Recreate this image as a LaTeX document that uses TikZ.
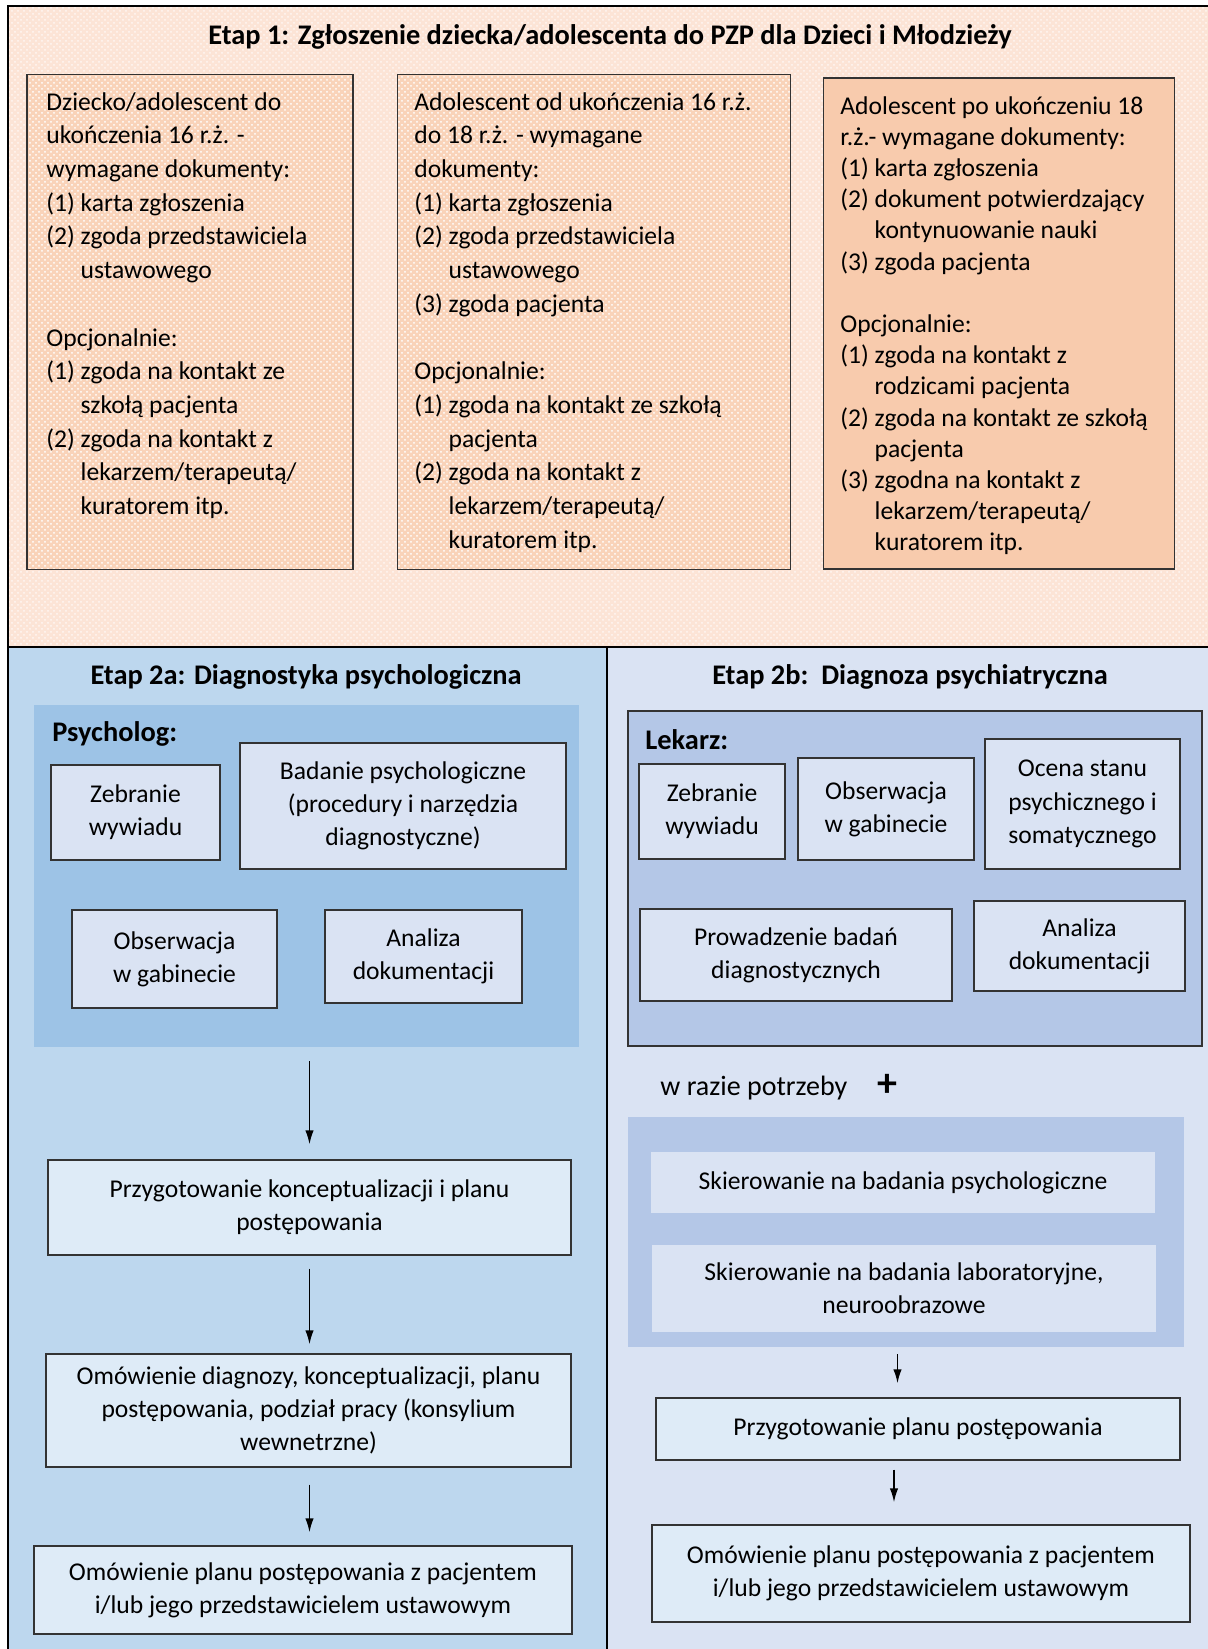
\documentclass[tikz,border=0pt]{standalone}
\usepackage{fontspec}
\setmainfont{Carlito}
\usetikzlibrary{patterns,arrows.meta}
\definecolor{peachbg}{HTML}{FCE4D6}
\definecolor{peachbox}{HTML}{F8CBAD}
\definecolor{bluebg}{HTML}{BDD7EE}
\definecolor{bluepanel}{HTML}{9DC3E6}
\definecolor{lilacbg}{HTML}{DAE3F3}
\definecolor{lilacpanel}{HTML}{B4C7E7}
\definecolor{boxfill}{HTML}{DEEBF7}
\newcommand{\ind}{\hphantom{(2) }}
\begin{document}
\begin{tikzpicture}[x=0.5pt, y=-0.5pt,
    txt/.style={font=\fontsize{12.8}{16.85}\selectfont, align=left, inner sep=0pt},
    ttl/.style={font=\fontsize{14.2}{16}\selectfont\bfseries, inner sep=0pt},
    docbox/.style={draw=black!80, line width=0.6pt, preaction={fill=peachbox!85!white}, pattern=crosshatch dots, pattern color=white},
    bx/.style={draw=black!80, line width=0.6pt, fill=lilacbg, align=center, inner sep=0pt, font=\fontsize{12.8}{16.6}\selectfont},
    flat/.style={fill=lilacbg, align=center, inner sep=0pt, font=\fontsize{12.8}{16.6}\selectfont},
    arr/.style={-{Latex[length=7pt,width=4.2pt]}, line width=0.9pt}]
    \useasboundingbox (0,0) rectangle (1208,1649);
    \clip (0,0) rectangle (1208,1649);
    % etap 1
    \fill [peachbg] (8,6) rectangle (1220,647);
    \fill [pattern=crosshatch dots, pattern color=white, opacity=0.7] (8,6) rectangle (1220,647);
    \draw [line width=1pt] (1220,6) -- (8,6) -- (8,1660);
    \node [ttl] (e1) at (610,37) {Etap 1: Zgłoszenie dziecka/adolescenta do PZP dla Dzieci i Młodzieży};
    \node [docbox, minimum width=163pt, minimum height=247.5pt] (b1) at (190,322) {};
    \node [docbox, minimum width=196.5pt, minimum height=247.5pt] (b2) at (594,322) {};
    \node [draw=black!80, line width=0.6pt, fill=peachbox, minimum width=175.5pt, minimum height=245.5pt] (b3) at (999,323.5) {};
    \node [txt, anchor=north west] (t1) at (46,92) {Dziecko/adolescent do\\ukończenia 16 r.ż. -\\wymagane dokumenty:\\(1) karta zgłoszenia\\(2) zgoda przedstawiciela\\\ind ustawowego\\~\\Opcjonalnie:\\(1) zgoda na kontakt ze\\\ind szkołą pacjenta\\(2) zgoda na kontakt z\\\ind lekarzem/terapeutą/\\\ind kuratorem itp.};
    \node [txt, anchor=north west] (t2) at (414,92) {Adolescent od ukończenia 16 r.ż.\\do 18 r.ż. - wymagane\\dokumenty:\\(1) karta zgłoszenia\\(2) zgoda przedstawiciela\\\ind ustawowego\\(3) zgoda pacjenta\\~\\Opcjonalnie:\\(1) zgoda na kontakt ze szkołą\\\ind pacjenta\\(2) zgoda na kontakt z\\\ind lekarzem/terapeutą/\\\ind kuratorem itp.};
    \node [txt, font=\fontsize{12.8}{15.6}\selectfont, anchor=north west] (t3) at (840,96) {Adolescent po ukończeniu 18\\r.ż.- wymagane dokumenty:\\(1) karta zgłoszenia\\(2) dokument potwierdzający\\\ind kontynuowanie nauki\\(3) zgoda pacjenta\\~\\Opcjonalnie:\\(1) zgoda na kontakt z\\\ind rodzicami pacjenta\\(2) zgoda na kontakt ze szkołą\\\ind pacjenta\\(3) zgodna na kontakt z\\\ind lekarzem/terapeutą/\\\ind kuratorem itp.};
    % etap 2a
    \fill [bluebg] (8,647) rectangle (607,1660);
    \fill [lilacbg] (607,647) rectangle (1220,1660);
    \draw [line width=1pt] (8,647) -- (1220,647);
    \draw [line width=1.2pt] (607,647) -- (607,1660);
    \draw [line width=1pt] (8,647) -- (8,1660);
    \node [ttl] (e2a) at (306,677) {Etap 2a: Diagnostyka psychologiczna};
    \node [fill=bluepanel, minimum width=272.5pt, minimum height=171pt] (pan1) at (306.5,876) {};
    \node [ttl, anchor=west] (psy) at (52,734) {Psycholog:};
    \node [bx, minimum width=84.5pt, minimum height=47.5pt] (a1) at (135.5,812.5) {Zebranie\\wywiadu};
    \node [bx, minimum width=163pt, minimum height=63pt] (a2) at (403,806) {Badanie psychologiczne\\(procedury i narzędzia\\diagnostyczne)};
    \node [bx, minimum width=102.5pt, minimum height=49pt] (a3) at (174.5,959) {Obserwacja\\w gabinecie};
    \node [bx, minimum width=98.5pt, minimum height=46.5pt] (a4) at (423.5,956.5) {Analiza\\dokumentacji};
    \node [bx, fill=boxfill, minimum width=261.5pt, minimum height=47.5pt] (a5) at (309.5,1207.5) {Przygotowanie konceptualizacji i planu\\postępowania};
    \node [bx, fill=boxfill, minimum width=262.5pt, minimum height=56.5pt] (a6) at (308.5,1410.5) {Omówienie diagnozy, konceptualizacji, planu\\postępowania, podział pracy (konsylium\\wewnetrzne)};
    \node [bx, fill=boxfill, minimum width=269pt, minimum height=44pt] (a7) at (303,1590) {Omówienie planu postępowania z pacjentem\\i/lub jego przedstawicielem ustawowym};
    \draw [arr, shorten <=7pt, shorten >=7.5pt] (pan1.south -| a5) -- (a5.north);
    \draw [arr, shorten <=6.5pt, shorten >=4.5pt] (a5.south) -- (a6.north -| a5);
    \draw [arr, shorten <=8.5pt, shorten >=6.5pt] (a6.south -| a5) -- (a7.north -| a5);
    % etap 2b
    \node [ttl] (e2b) at (910,677) {Etap 2b:\ \ Diagnoza psychiatryczna};
    \node [draw=black!80, line width=0.6pt, fill=lilacpanel, minimum width=287pt, minimum height=167.5pt] (pan2) at (915,878.5) {};
    \node [ttl, anchor=west] (lek) at (645,740) {Lekarz:};
    \node [bx, minimum width=73pt, minimum height=47.5pt] (c1) at (712,811.5) {Zebranie\\wywiadu};
    \node [bx, minimum width=88pt, minimum height=51pt] (c2) at (886,809) {Obserwacja\\w gabinecie};
    \node [bx, minimum width=97.5pt, minimum height=65pt] (c3) at (1082.5,804) {Ocena stanu\\psychicznego i\\somatycznego};
    \node [bx, minimum width=156pt, minimum height=46pt] (c4) at (796,955) {Prowadzenie badań\\diagnostycznych};
    \node [bx, minimum width=105.5pt, minimum height=45pt] (c5) at (1079.5,946) {Analiza\\dokumentacji};
    \node [txt, font=\fontsize{14}{16}\selectfont, anchor=west] (wrp) at (660,1088) {w razie potrzeby};
    \node [inner sep=0pt, font=\fontsize{20}{20}\selectfont\bfseries] (plus) at (887,1085) {+};
    \node [fill=lilacpanel, minimum width=278pt, minimum height=115pt] (pan3) at (906,1232) {};
    \node [flat, minimum width=252pt, minimum height=30.5pt] (c6) at (903,1182.5) {Skierowanie na badania psychologiczne};
    \node [flat, minimum width=252pt, minimum height=43.5pt] (c7) at (904,1288.5) {Skierowanie na badania laboratoryjne,\\neuroobrazowe};
    \node [bx, fill=boxfill, minimum width=262pt, minimum height=31pt] (c8) at (918,1429) {Przygotowanie planu postępowania};
    \node [bx, fill=boxfill, minimum width=269pt, minimum height=48.5pt] (c9) at (921,1573.5) {Omówienie planu postępowania z pacjentem\\i/lub jego przedstawicielem ustawowym};
    \coordinate (ar1) at (897.5,0);
    \coordinate (ar2) at (894,0);
    \draw [arr, shorten <=3.5pt, shorten >=7pt] (pan3.south -| ar1) -- (c8.north -| ar1);
    \draw [arr, shorten <=4.5pt, shorten >=11pt] (c8.south -| ar2) -- (c9.north -| ar2);
\end{tikzpicture}
\end{document}
